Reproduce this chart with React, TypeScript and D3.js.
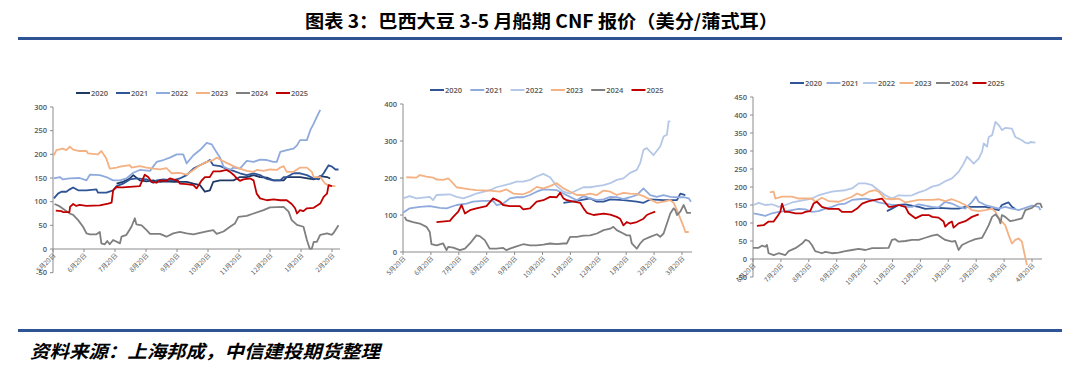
import * as d3 from 'd3';

type Pt = [number, number];

const years = ['2020', '2021', '2022', '2023', '2024', '2025'];
const coloursA = ['#1f3864', '#2f5597', '#8faadc', '#f4b183', '#7f7f7f', '#c00000'];
const coloursB = ['#2f5597', '#8faadc', '#b4c7e7', '#f4b183', '#7f7f7f', '#c00000'];

const monthsA = ['5月20日', '6月20日', '7月20日', '8月20日', '9月20日', '10月20日', '11月20日', '12月20日', '1月20日', '2月20日'];
const monthsB = ['5月20日', '6月20日', '7月20日', '8月20日', '9月20日', '10月20日', '11月20日', '12月20日', '1月20日', '2月20日', '3月20日'];
const monthsC = ['6月20日', '7月20日', '8月20日', '9月20日', '10月20日', '11月20日', '12月20日', '1月20日', '2月20日', '3月20日', '4月20日'];

const ticksA = [-50, 0, 50, 100, 150, 200, 250, 300];
const ticksB = [0, 100, 200, 300, 400];
const ticksC = [-50, 0, 50, 100, 150, 200, 250, 300, 350, 400, 450];

// x = months after the first label (5/20 or 6/20), y = cents per bushel
const c1_2020: Pt[] = [[2.05,138],[2.26,142],[2.48,149],[2.59,156],[2.8,145],[3.02,143],[3.23,145],[3.45,142],[3.66,143],[3.88,142],[4.31,142],[4.53,138],[4.74,135],[4.9,121],[5.06,124],[5.17,142],[5.39,145],[5.82,145],[6.03,152],[6.25,152],[6.47,156],[6.68,152],[6.9,151],[7.11,145],[7.44,145],[7.54,152],[7.97,152],[8.41,147],[8.62,154],[8.84,152],[8.94,149]];
const c1_2021: Pt[] = [[0.03,107],[0.16,117],[0.27,121],[0.43,121],[0.54,126],[0.65,130],[0.81,124],[1.08,124],[1.4,126],[1.45,119],[1.72,119],[1.94,124],[2.05,133],[2.26,138],[2.48,147],[2.69,149],[3.02,147],[3.23,140],[3.34,145],[3.56,147],[3.88,145],[4.09,149],[4.31,156],[4.53,170],[4.74,177],[4.96,184],[5.06,188],[5.17,177],[5.39,175],[5.6,170],[5.82,165],[6.03,160],[6.25,156],[6.47,160],[6.68,156],[6.9,148],[7.11,145],[7.33,145],[7.44,152],[7.54,152],[7.76,160],[7.97,160],[8.19,156],[8.41,149],[8.57,147],[8.73,160],[8.89,177],[9.0,174],[9.11,168],[9.21,168]];
const c1_2022: Pt[] = [[0.03,149],[0.22,152],[0.32,147],[0.54,149],[0.86,150],[1.08,145],[1.19,157],[1.51,156],[1.72,152],[1.94,145],[2.16,145],[2.37,149],[2.59,161],[2.8,167],[3.13,165],[3.34,184],[3.56,188],[3.77,193],[3.99,200],[4.2,200],[4.31,181],[4.53,198],[4.74,209],[4.96,224],[5.12,221],[5.23,209],[5.39,193],[5.5,174],[5.71,167],[5.82,172],[6.03,170],[6.25,186],[6.47,184],[6.68,189],[6.9,188],[7.11,184],[7.22,184],[7.33,205],[7.54,209],[7.76,212],[7.87,219],[7.97,230],[8.19,230],[8.3,251],[8.41,265],[8.51,279],[8.62,294]];
const c1_2023: Pt[] = [[0.03,198],[0.11,209],[0.32,212],[0.43,209],[0.54,216],[0.65,210],[0.86,207],[1.08,207],[1.13,202],[1.45,200],[1.56,207],[1.72,191],[1.83,170],[2.05,172],[2.16,174],[2.48,177],[2.53,172],[2.8,175],[3.02,172],[3.23,170],[3.45,168],[3.66,171],[3.83,160],[4.09,161],[4.31,157],[4.53,167],[4.74,177],[4.96,184],[5.17,188],[5.28,193],[5.39,189],[5.6,182],[5.82,175],[6.03,170],[6.25,165],[6.47,163],[6.57,167],[6.79,165],[7.0,168],[7.22,167],[7.33,172],[7.44,175],[7.54,163],[7.76,163],[7.97,172],[8.19,172],[8.35,163],[8.41,152],[8.62,152],[8.78,138],[8.94,133],[9.11,133]];
const c1_2024: Pt[] = [[0.05,95],[0.22,90],[0.54,75],[0.65,72],[0.81,61],[0.97,47],[1.08,33],[1.19,31],[1.4,31],[1.51,36],[1.56,12],[1.67,10],[1.75,17],[1.83,10],[1.94,19],[2.16,12],[2.21,26],[2.37,30],[2.53,47],[2.64,65],[2.69,52],[2.86,50],[3.02,40],[3.13,32],[3.45,32],[3.66,26],[3.88,33],[4.09,36],[4.31,33],[4.53,31],[4.74,34],[4.96,37],[5.17,40],[5.28,32],[5.5,37],[5.71,47],[5.87,54],[5.98,68],[6.25,70],[6.47,75],[6.79,82],[7.0,88],[7.44,89],[7.6,79],[7.7,61],[7.87,51],[8.08,47],[8.19,19],[8.28,1],[8.35,1],[8.41,15],[8.51,15],[8.62,30],[8.84,33],[9.0,30],[9.05,34],[9.21,50]];
const c1_2025: Pt[] = [[0.09,81],[0.27,80],[0.32,78],[0.53,78],[0.55,89],[0.65,95],[0.75,91],[0.86,93],[1.08,91],[1.51,92],[1.78,96],[1.89,98],[1.94,124],[2.05,131],[2.16,130],[2.26,130],[2.8,133],[2.86,142],[2.96,157],[3.07,152],[3.18,142],[3.34,140],[3.45,145],[3.66,144],[3.77,149],[4.04,144],[4.09,138],[4.31,137],[4.53,135],[4.63,128],[4.8,145],[4.9,152],[5.06,152],[5.17,164],[5.39,164],[5.6,167],[5.71,163],[5.82,157],[5.93,149],[6.03,144],[6.14,147],[6.36,149],[6.47,145],[6.57,117],[6.68,107],[6.9,103],[7.11,105],[7.33,103],[7.54,103],[7.7,95],[7.81,86],[7.87,75],[7.97,82],[8.08,80],[8.19,86],[8.41,87],[8.62,96],[8.73,110],[8.84,117],[8.89,135],[9.0,133]];

const c2_2020: Pt[] = [[5.75,133],[6.23,138],[6.71,145],[6.95,136],[7.19,136],[7.43,142],[7.9,140],[8.38,136],[8.62,133],[8.86,142],[9.34,140],[9.82,140],[9.94,158],[10.12,154]];
const c2_2021: Pt[] = [[0.0,106],[0.24,118],[0.6,122],[0.96,124],[1.32,119],[1.56,118],[1.92,127],[2.28,131],[2.51,136],[2.87,138],[3.23,138],[3.35,127],[3.59,131],[3.83,145],[4.07,148],[4.31,148],[4.55,154],[4.79,163],[5.03,169],[5.51,167],[5.75,158],[5.99,149],[6.23,140],[6.47,151],[6.71,145],[6.95,140],[7.19,142],[7.43,149],[7.66,148],[7.9,143],[8.14,148],[8.38,154],[8.62,172],[8.86,154],[9.1,149],[9.34,154],[9.58,149],[9.82,148],[10.06,148],[10.24,145],[10.32,136]];
const c2_2022: Pt[] = [[0.0,145],[0.24,151],[0.48,145],[0.96,149],[1.08,140],[1.2,154],[1.68,156],[1.92,149],[2.16,145],[2.4,151],[2.63,158],[3.11,167],[3.35,175],[3.83,184],[4.07,190],[4.31,190],[4.55,195],[4.79,204],[5.03,211],[5.27,202],[5.51,178],[5.75,163],[5.99,158],[6.23,167],[6.47,175],[6.71,175],[6.95,178],[7.19,181],[7.43,186],[7.66,195],[7.9,199],[8.14,214],[8.38,222],[8.5,240],[8.62,276],[8.74,281],[8.86,271],[8.98,262],[9.22,285],[9.34,312],[9.46,317],[9.52,353],[9.58,353]];
const c2_2023: Pt[] = [[0.12,202],[0.48,201],[0.6,208],[0.84,204],[1.08,201],[1.2,196],[1.44,195],[1.62,199],[1.74,190],[1.92,175],[2.16,172],[2.4,169],[2.63,167],[3.11,166],[3.47,163],[3.71,169],[3.95,158],[4.31,156],[4.55,163],[4.79,176],[5.03,172],[5.27,178],[5.51,186],[5.75,172],[5.99,163],[6.23,154],[6.47,154],[6.71,158],[6.95,154],[7.19,166],[7.43,163],[7.66,154],[7.9,160],[8.14,158],[8.38,157],[8.62,151],[8.86,142],[9.1,133],[9.34,136],[9.58,140],[9.7,133],[9.82,113],[9.94,90],[10.06,68],[10.12,54],[10.24,54]];
const c2_2024: Pt[] = [[0.06,95],[0.12,86],[0.36,81],[0.6,77],[0.84,68],[0.96,54],[1.02,21],[1.2,18],[1.44,23],[1.56,5],[1.62,14],[1.8,12],[2.04,5],[2.22,9],[2.4,23],[2.63,45],[2.75,43],[2.93,32],[3.11,9],[3.35,9],[3.59,11],[3.71,5],[3.83,9],[4.07,15],[4.31,21],[4.55,18],[4.79,18],[5.03,20],[5.27,23],[5.51,21],[5.75,23],[5.87,23],[5.99,41],[6.23,41],[6.47,44],[6.71,45],[6.95,50],[7.19,59],[7.43,63],[7.54,68],[7.66,59],[7.9,50],[8.02,45],[8.14,45],[8.2,23],[8.38,9],[8.5,23],[8.62,33],[8.86,41],[9.1,48],[9.22,41],[9.34,50],[9.46,77],[9.58,104],[9.7,118],[9.76,113],[9.82,100],[9.94,109],[10.06,127],[10.18,106],[10.32,106]];
const c2_2025: Pt[] = [[1.2,81],[1.68,84],[1.8,95],[1.98,109],[2.1,127],[2.22,104],[2.4,113],[2.63,118],[2.99,124],[3.23,145],[3.47,136],[3.59,127],[3.83,124],[4.19,124],[4.31,115],[4.55,118],[4.79,136],[5.03,140],[5.27,149],[5.51,148],[5.63,160],[5.75,145],[5.87,140],[6.11,136],[6.35,133],[6.47,118],[6.59,106],[6.83,100],[7.19,104],[7.43,101],[7.66,95],[7.78,90],[7.9,72],[8.02,81],[8.14,77],[8.38,81],[8.62,90],[8.74,100],[8.86,104],[9.04,109]];

const c3_2020: Pt[] = [[4.8,133],[4.98,140],[5.22,150],[5.46,152],[5.7,148],[5.94,145],[6.18,139],[6.65,142],[7.13,140],[7.37,140],[7.61,145],[8.09,145],[8.33,145],[8.57,140],[8.81,136],[8.92,150],[9.04,154],[9.16,157],[9.28,145],[9.4,139]];
const c3_2021: Pt[] = [[0.02,127],[0.2,124],[0.44,120],[0.68,127],[0.92,131],[1.16,133],[1.4,136],[1.64,139],[1.88,138],[2.11,131],[2.35,133],[2.59,140],[2.83,145],[3.07,152],[3.31,154],[3.55,164],[3.79,166],[4.03,168],[4.27,164],[4.5,157],[4.74,154],[4.98,150],[5.22,150],[5.46,145],[5.7,145],[5.94,152],[6.18,148],[6.42,145],[6.65,143],[6.89,159],[7.13,154],[7.37,145],[7.61,140],[7.85,159],[7.99,173],[8.09,159],[8.33,150],[8.57,145],[8.81,140],[9.04,145],[9.28,140],[9.52,136],[9.76,142],[10.0,148],[10.24,145],[10.3,136]];
const c3_2022: Pt[] = [[0.02,150],[0.2,156],[0.44,150],[0.68,152],[0.92,145],[1.16,150],[1.4,157],[1.64,161],[1.88,164],[2.11,168],[2.35,177],[2.59,182],[2.83,187],[3.07,189],[3.31,191],[3.55,196],[3.79,210],[4.03,210],[4.27,205],[4.5,191],[4.74,177],[4.98,168],[5.22,177],[5.46,176],[5.7,177],[5.94,185],[6.18,191],[6.42,201],[6.65,205],[6.89,216],[7.13,224],[7.37,242],[7.55,265],[7.67,284],[7.79,275],[7.91,265],[8.09,279],[8.21,298],[8.27,321],[8.39,312],[8.45,339],[8.57,344],[8.69,381],[8.81,372],[8.92,358],[9.04,364],[9.28,362],[9.4,339],[9.64,330],[9.76,323],[9.88,321],[9.94,325],[10.12,323]];
const c3_2023: Pt[] = [[0.6,185],[0.74,187],[0.8,168],[1.04,173],[1.4,173],[1.64,168],[2.11,168],[2.23,159],[2.47,170],[2.71,161],[3.07,159],[3.31,166],[3.55,173],[3.73,182],[3.91,176],[4.15,187],[4.38,191],[4.5,187],[4.74,168],[4.98,166],[5.22,168],[5.46,157],[5.7,161],[5.94,164],[6.18,164],[6.42,164],[6.65,166],[6.89,161],[7.13,166],[7.37,159],[7.61,150],[7.85,136],[8.09,133],[8.33,136],[8.57,140],[8.69,131],[8.81,113],[8.92,104],[9.04,94],[9.16,67],[9.28,43],[9.4,53],[9.52,57],[9.64,48],[9.7,25],[9.82,-17]];
const c3_2024: Pt[] = [[0.0,31],[0.2,31],[0.32,37],[0.44,34],[0.5,39],[0.56,16],[0.74,11],[0.92,16],[1.16,11],[1.28,22],[1.52,30],[1.76,43],[1.88,53],[2.0,50],[2.11,39],[2.23,22],[2.47,16],[2.59,20],[2.83,16],[3.07,18],[3.31,22],[3.55,25],[3.79,28],[4.03,25],[4.27,30],[4.5,30],[4.86,31],[4.98,53],[5.1,55],[5.22,48],[5.46,50],[5.7,53],[5.94,53],[6.18,59],[6.42,65],[6.6,68],[6.77,59],[6.89,53],[7.13,48],[7.25,50],[7.37,25],[7.49,39],[7.73,48],[7.97,55],[8.21,59],[8.33,76],[8.45,94],[8.57,117],[8.69,124],[8.81,113],[8.87,99],[8.92,122],[9.04,117],[9.22,105],[9.4,108],[9.64,113],[9.76,136],[10.0,142],[10.18,154],[10.3,154],[10.36,142]];
const c3_2025: Pt[] = [[0.14,92],[0.38,94],[0.56,104],[0.74,104],[0.86,117],[0.98,131],[1.04,154],[1.14,131],[1.28,131],[1.52,127],[1.76,127],[1.88,131],[2.05,133],[2.17,154],[2.29,159],[2.47,145],[2.71,139],[3.07,139],[3.19,131],[3.55,131],[3.73,140],[3.91,154],[4.15,161],[4.38,164],[4.62,168],[4.74,157],[4.86,145],[4.98,145],[5.22,150],[5.46,145],[5.58,127],[5.82,113],[6.06,122],[6.3,122],[6.42,117],[6.65,115],[6.83,104],[6.89,90],[7.01,99],[7.13,104],[7.19,87],[7.37,99],[7.61,105],[7.85,117],[8.09,124]];

const FONT = "'Open Sans', 'Noto Sans CJK SC', sans-serif";
const CJK = "'Noto Sans CJK SC', sans-serif";

interface PanelProps {
  series: Pt[][];
  colours: string[];
  months: string[];
  yTicks: number[];
  xRange: [number, number]; // px of first and last month label
  xEnd: number;
  yPx: [number, number]; // px of 0 and top tick
  legendX: number;
  legendY: number;
  legendStep: number;
}

const Panel = ({ series, colours, months, yTicks, xRange, xEnd, yPx, legendX, legendY, legendStep }: PanelProps) => {
  const yMin = d3.min(yTicks)!;
  const yMax = d3.max(yTicks)!;
  const x = d3.scaleLinear().domain([0, months.length - 1]).range(xRange);
  const y = d3.scaleLinear().domain([0, yMax]).range(yPx);
  const line = d3.line<Pt>().x((d) => x(d[0])).y((d) => y(d[1]));
  const x0 = xRange[0];
  const y0 = y(0);

  return (
    <g>
      {/* y axis */}
      <line x1={x0} x2={x0} y1={y(yMin)} y2={y(yMax)} stroke="#8c8c8c" strokeWidth={1} />
      {yTicks.map((t) => (
        <g key={t}>
          <line x1={x0 - 3} x2={x0} y1={y(t)} y2={y(t)} stroke="#8c8c8c" />
          <text x={x0 - 6} y={y(t)} dy="0.35em" textAnchor="end" fontSize={7.5} fill="#595959" fontFamily={FONT} fontWeight={600}>
            {t}
          </text>
        </g>
      ))}
      {/* x axis at zero */}
      <line x1={x0} x2={xEnd} y1={y0} y2={y0} stroke="#8c8c8c" strokeWidth={1} />
      {months.map((m, i) => (
        <g key={m}>
          <line x1={x(i)} x2={x(i)} y1={y0} y2={y0 + 3} stroke="#8c8c8c" />
          <text
            transform={`translate(${x(i) + 3},${y0 + 7}) rotate(-45)`}
            textAnchor="end"
            fontSize={6.5}
            fill="#595959"
            fontFamily={CJK}
          >
            {m}
          </text>
        </g>
      ))}
      {series.map((s, i) => (
        <path key={i} d={line(s) ?? ''} fill="none" stroke={colours[i]} strokeWidth={1.8} strokeLinejoin="round" />
      ))}
      {years.map((yr, i) => (
        <g key={yr} transform={`translate(${legendX + i * legendStep},${legendY})`}>
          <line x1={0} x2={14} y1={0} y2={0} stroke={colours[i]} strokeWidth={2} />
          <text x={15} y={0} dy="0.35em" fontSize={7.5} fill="#595959" fontFamily={FONT} fontWeight={600}>
            {yr}
          </text>
        </g>
      ))}
    </g>
  );
};

export default function App() {
  return (
    <svg width={1080} height={368} style={{ position: 'absolute', left: 0, top: 0, background: '#fff' }}>
      <text x={305} y={28} fontSize={18} fontWeight={700} fontFamily={CJK} textLength={473} lengthAdjust="spacingAndGlyphs">
        图表 3：巴西大豆 3-5 月船期 CNF 报价（美分/蒲式耳）
      </text>
      <rect x={18} y={37} width={1044} height={3} fill="#2f5496" />

      <Panel
        series={[c1_2020, c1_2021, c1_2022, c1_2023, c1_2024, c1_2025]}
        colours={coloursA}
        months={monthsA}
        yTicks={ticksA}
        xRange={[53, 332]}
        xEnd={340}
        yPx={[249, 107]}
        legendX={76}
        legendY={93}
        legendStep={40}
      />
      <Panel
        series={[c2_2020, c2_2021, c2_2022, c2_2023, c2_2024, c2_2025]}
        colours={coloursB}
        months={monthsB}
        yTicks={ticksB}
        xRange={[403, 682]}
        xEnd={692}
        yPx={[252, 104]}
        legendX={430}
        legendY={90}
        legendStep={40.3}
      />
      <Panel
        series={[c3_2020, c3_2021, c3_2022, c3_2023, c3_2024, c3_2025]}
        colours={coloursB}
        months={monthsC}
        yTicks={ticksC}
        xRange={[753, 1032]}
        xEnd={1042}
        yPx={[259, 97]}
        legendX={790}
        legendY={83}
        legendStep={36.5}
      />

      <rect x={18} y={329} width={1044} height={3} fill="#2f5496" />
      <text x={30} y={358} fontSize={18} fontWeight={700} fontStyle="italic" fontFamily={CJK} textLength={350} lengthAdjust="spacingAndGlyphs">
        资料来源：上海邦成，中信建投期货整理
      </text>
    </svg>
  );
}
